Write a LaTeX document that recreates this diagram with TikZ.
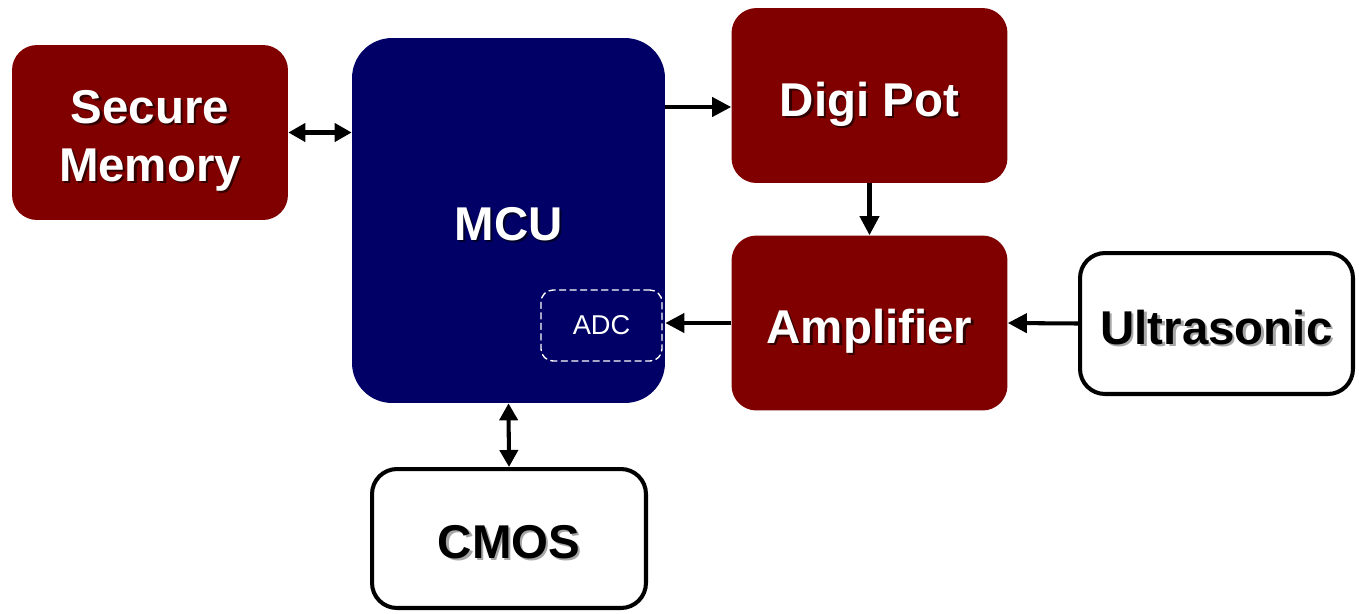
\documentclass[tikz,border=0pt]{standalone}
\usepackage{fontspec}
\setmainfont{Liberation Sans}
\usetikzlibrary{arrows.meta}

\definecolor{boxred}{RGB}{128,0,0}
\definecolor{boxnavy}{RGB}{0,0,102}
\newcommand{\shadowed}[2]{\raisebox{-2pt}[\height][0pt]{\rlap{\kern1.3pt\raisebox{-1.3pt}{\textcolor{#1}{#2}}}#2}}

\begin{document}
\begin{tikzpicture}[x=0.02cm,y=-0.02cm,line cap=round,line join=round,
  redbox/.style={fill=boxred, rounded corners=0.5cm, text=white, minimum width=5.52cm, minimum height=3.5cm,
    font=\fontsize{27}{33}\selectfont\bfseries, align=center},
  whitebox/.style={draw=black, line width=2.3pt, fill=white, rounded corners=0.5cm, text=black,
    minimum width=5.46cm, minimum height=2.82cm, font=\fontsize{27}{33}\selectfont\bfseries},
  mcubox/.style={fill=boxnavy, rounded corners=0.8cm, text=white, minimum width=6.26cm, minimum height=7.3cm,
    font=\fontsize{27}{33}\selectfont\bfseries},
  adcbox/.style={draw=white, line width=0.8pt, dash pattern=on 3.5pt off 2.5pt, rounded corners=0.24cm,
    text=white, minimum width=2.42cm, minimum height=1.42cm, font=\fontsize{15.5}{18}\selectfont},
  arr/.style={line width=2.3pt, line cap=butt, -{Triangle[length=0.38cm,width=0.38cm]}},
  dblarr/.style={line width=2.3pt, line cap=butt, {Triangle[length=0.34cm,width=0.36cm]}-{Triangle[length=0.34cm,width=0.36cm]}}]
  \useasboundingbox (0,0) rectangle (1359,613);

  % Blocks
  \node[redbox] (secmem) at (150,132.5) {\shadowed{boxred!40!black}{Secure}\\\shadowed{boxred!40!black}{Memory}};
  \node[mcubox] (mcu) at (508.5,220.5) {\shadowed{boxnavy!40!black}{MCU}};
  \node[adcbox] (adc) at (601.5,325.5) {ADC};
  \node[redbox] (digipot) at (869.5,95.5) {\shadowed{boxred!40!black}{Digi Pot}};
  \node[redbox] (amp) at (869.5,323) {\shadowed{boxred!40!black}{Amplifier}};
  \node[whitebox] (ultra) at (1216.5,323.5) {\shadowed{black!35}{Ultrasonic}};
  \node[whitebox, minimum width=5.48cm, minimum height=2.78cm] (cmos) at (509,538.5) {\shadowed{black!35}{CMOS}};

  % Signal paths
  \draw[dblarr] (secmem.east) -- (secmem.east -| mcu.west);
  \draw[arr] ([yshift=-0.23cm]digipot.west -| mcu.east) -- ([yshift=-0.23cm]digipot.west);
  \draw[arr] (digipot.south) -- (amp.north);
  \draw[arr] (amp.west) -- (amp.west -| mcu.east);
  \draw[arr] (ultra.west) -- (amp.east);
  \draw[dblarr] (mcu.south) -- (cmos.north);
\end{tikzpicture}
\end{document}
